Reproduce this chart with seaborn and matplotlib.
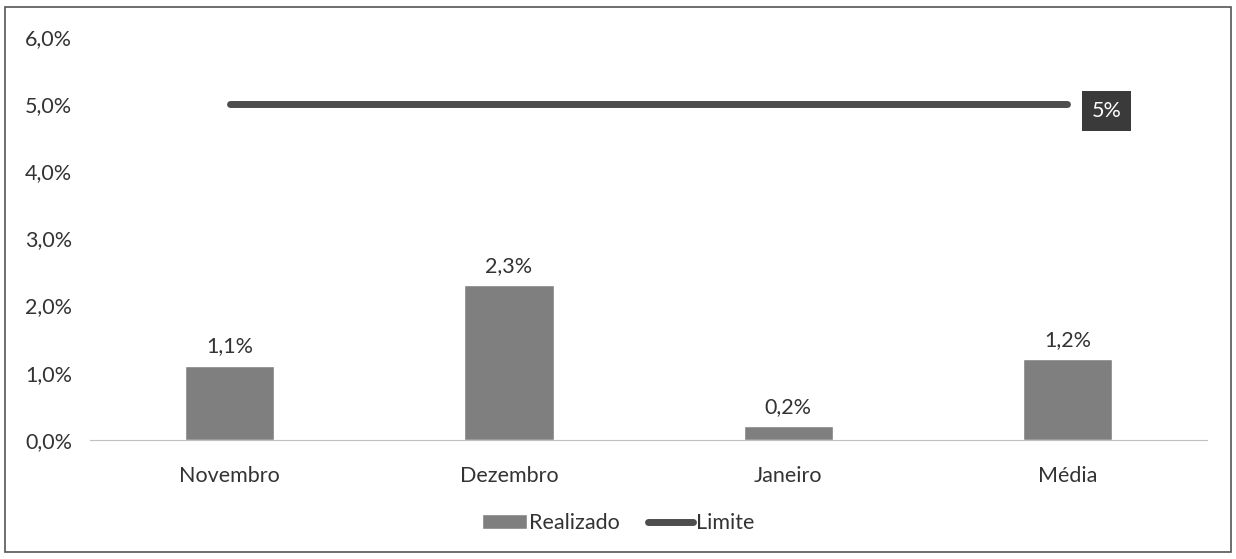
import pandas as pd
import seaborn as sns
from matplotlib import pyplot as plt
from matplotlib.ticker import FuncFormatter
from matplotlib.patches import Rectangle

meses = ["Novembro", "Dezembro", "Janeiro", "Média"]
realizado = [0.011, 0.023, 0.002, 0.012]
limite = [0.05, 0.05, 0.05, 0.05]

df = pd.DataFrame({"mes": meses, "realizado": realizado, "limite": limite})

sns.set_style("white")
plt.rcParams["font.family"] = ["Lato", "DejaVu Sans"]
fs = 15.5

fig = plt.figure(figsize=(12.36, 5.59), dpi=100)
ax = fig.add_axes([0.073, 0.213, 0.9035, 0.721])

sns.barplot(data=df, x="mes", y="realizado", color="#7f7f7f", width=0.32,
            saturation=1, ax=ax, label="Realizado")
sns.pointplot(data=df, x="mes", y="limite", color="#4d4d4d", marker="",
              linewidth=5, ax=ax, label="Limite")

ax.bar_label(ax.containers[0], labels=[f"{v*100:.1f}%".replace(".", ",") for v in realizado],
             padding=7, fontsize=fs, color="#333333")

# rótulo do limite no final da linha
ax.annotate("5%", (len(meses) - 1, limite[-1]), xytext=(28, -5), textcoords="offset points",
            ha="center", va="center", fontsize=fs, color="white",
            bbox=dict(boxstyle="square,pad=0.45", fc="#3a3a3a", ec="none"))

ax.set_ylim(0, 0.06)
ax.set_xlim(-0.5, 3.5)
ax.set_yticks([0, 0.01, 0.02, 0.03, 0.04, 0.05, 0.06])
ax.yaxis.set_major_formatter(FuncFormatter(lambda v, p: f"{v*100:.1f}%".replace(".", ",")))
ax.set_xlabel("")
ax.set_ylabel("")
ax.tick_params(axis="both", labelsize=fs, colors="#333333", length=0)
ax.tick_params(axis="x", pad=19)
ax.tick_params(axis="y", pad=13)
for s in ["top", "right", "left"]:
    ax.spines[s].set_visible(False)
ax.spines["bottom"].set_color("#bfbfbf")

if ax.legend_:
    ax.legend_.remove()
h, l = ax.get_legend_handles_labels()
order = [l.index("Realizado"), l.index("Limite")]
fig.legend([h[i] for i in order], [l[i] for i in order], loc="center",
           bbox_to_anchor=(0.5, 0.064), ncol=2, frameon=False,
           fontsize=fs, handlelength=2.1, handletextpad=0.1, columnspacing=1.3,
           labelcolor="#333333")

fig.patches.append(Rectangle((0.004, 0.012), 0.992, 0.975, transform=fig.transFigure,
                             fill=False, ec="#555555", lw=1.2))

plt.savefig("out.png", dpi=100)
